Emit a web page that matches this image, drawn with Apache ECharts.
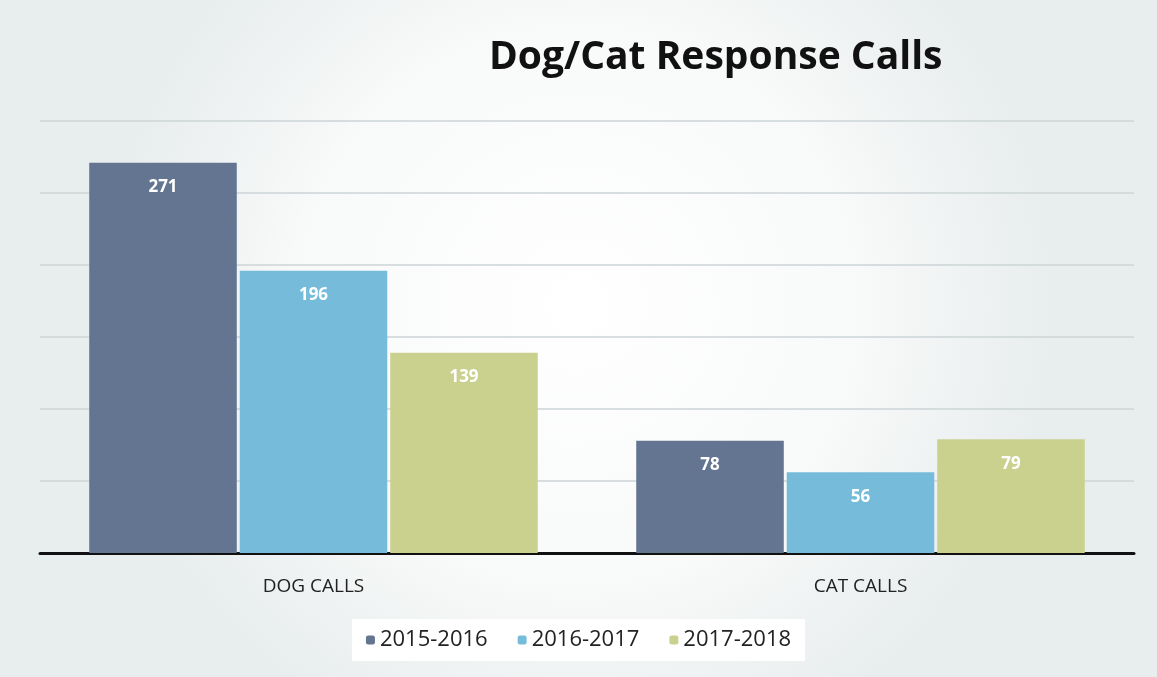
<!DOCTYPE html>
<html>
<head>
<meta charset="utf-8">
<script src="https://cdn.jsdelivr.net/npm/echarts@6/dist/echarts.min.js"></script>
<style>
  html, body { margin: 0; padding: 0; background: #f3f5f5; }
  #chart { width: 1157px; height: 677px; }
</style>
</head>
<body>
<div id="chart"></div>
<script>
const categories = ['DOG CALLS', 'CAT CALLS'];
const seriesNames = ['2015-2016', '2016-2017', '2017-2018'];
const calls2015 = [271, 78];
const calls2016 = [196, 56];
const calls2017 = [139, 79];
const colors = ['#637590', '#76bcda', '#cad18f'];

const chart = echarts.init(document.getElementById('chart'));

const makeSeries = (name, data, color) => ({
  name: name,
  type: 'bar',
  data: data,
  barGap: '2%',
  barCategoryGap: '18%',
  itemStyle: { color: color },
  label: {
    show: true,
    position: 'insideTop',
    distance: 16,
    color: '#ffffff',
    fontSize: 17,
    fontWeight: 'bold',
    fontFamily: 'Open Sans',
  },
});

chart.setOption({
  backgroundColor: new echarts.graphic.RadialGradient(0.5, 0.45, 0.7, [
    { offset: 0, color: '#ffffff' },
    { offset: 0.6, color: '#f8f9f9' },
    { offset: 1, color: '#e8eded' },
  ]),
  title: {
    text: 'Dog/Cat Response Calls',
    left: 484,
    top: 33,
    textStyle: {
      fontFamily: 'Open Sans',
      fontSize: 39,
      fontWeight: 'bold',
      color: '#111',
    },
  },
  legend: {
    data: seriesNames,
    bottom: 16,
    left: 'center',
    itemWidth: 9,
    itemHeight: 9,
    itemGap: 30,
    backgroundColor: '#ffffff',
    padding: [10, 14],
    textStyle: { fontFamily: 'Open Sans', fontSize: 22, color: '#222' },
  },
  grid: { left: 40, right: 23, top: 121, bottom: 124 },
  xAxis: {
    type: 'category',
    data: categories,
    axisLine: { lineStyle: { color: '#111', width: 3 } },
    axisTick: { show: false },
    axisLabel: { margin: 24, fontFamily: 'Open Sans', fontSize: 19, color: '#222' },
  },
  yAxis: {
    type: 'value',
    min: 0,
    max: 300,
    interval: 50,
    axisLabel: { show: false },
    axisLine: { show: false },
    splitLine: { lineStyle: { color: '#ccd4d6', width: 1.5 } },
  },
  series: [
    makeSeries(seriesNames[0], calls2015, colors[0]),
    makeSeries(seriesNames[1], calls2016, colors[1]),
    makeSeries(seriesNames[2], calls2017, colors[2]),
  ],
});
</script>
</body>
</html>
